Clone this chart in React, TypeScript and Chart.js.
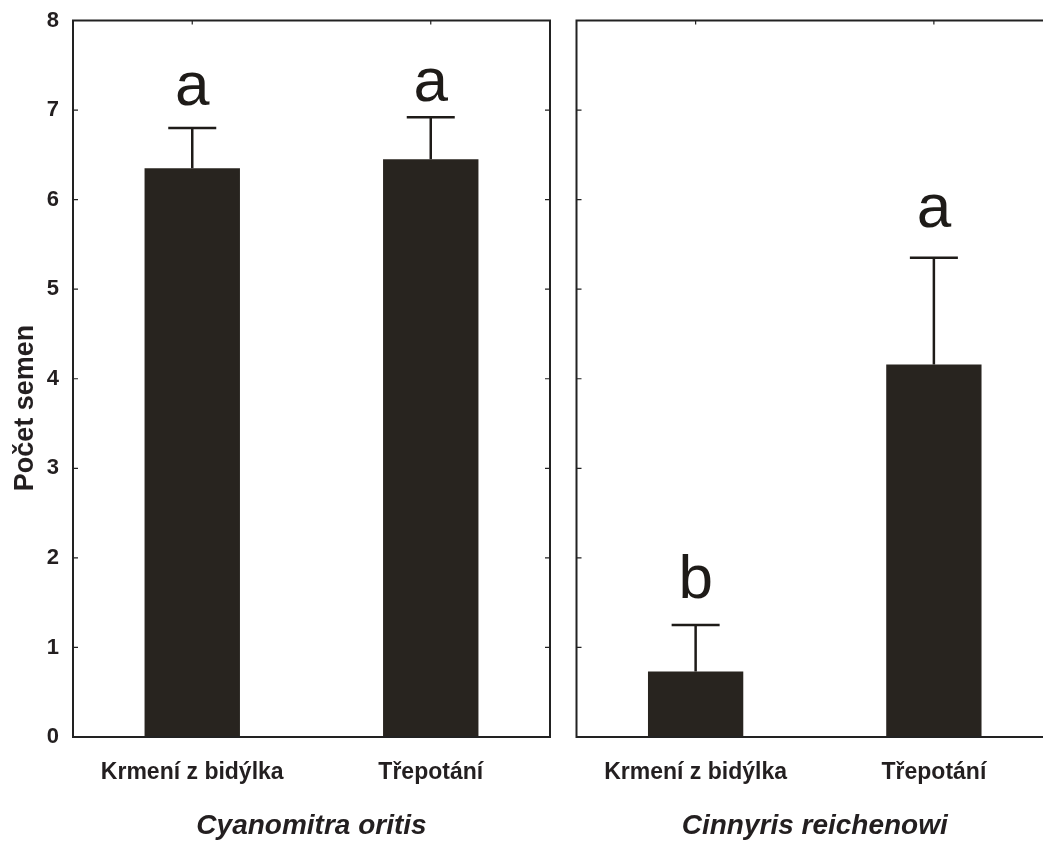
import React, { useEffect, useRef } from "react";
import { Chart, registerables } from "chart.js";

Chart.register(...registerables);

// Feeding mode categories and the two sunbird species
const categories = ["Krmení z bidýlka", "Třepotání"];
const speciesNames = ["Cyanomitra oritis", "Cinnyris reichenowi"];

// Mean number of seeds and the upper error (SE) per feeding mode
const oritisMeans = [6.35, 6.45];
const oritisErrors = [0.45, 0.47];
const reichenowiMeans = [0.73, 4.16];
const reichenowiErrors = [0.52, 1.19];

// Significance letters above each bar
const oritisLetters = ["a", "a"];
const reichenowiLetters = ["b", "a"];

const yMin = 0;
const yMax = 8;
const yStep = 1;
const yTitle = "Počet semen";

const FONT = "'Liberation Sans', Arial, Helvetica, sans-serif";
const INK = "#231f20";
const BAR = "#28241f";

type PanelOpts = {
  means: number[];
  errors: number[];
  letters: string[];
  letterGaps: number[];
  species: string;
  showYLabels: boolean;
  axisWidth: number;
  width: number;
};

const panelPlugin = (o: PanelOpts) => ({
  id: "panelDecor",
  afterDatasetsDraw(chart: any) {
    const { ctx, chartArea } = chart;
    const { left, right, top, bottom } = chartArea;
    const yScale = chart.scales.y;
    const meta = chart.getDatasetMeta(0);
    ctx.save();

    // frame
    ctx.strokeStyle = "#222222";
    ctx.lineWidth = 2;
    ctx.beginPath();
    ctx.rect(left, top, right - left, bottom - top);
    ctx.stroke();

    // inward ticks on the y axes
    ctx.lineWidth = 1.2;
    ctx.beginPath();
    for (let v = yMin + yStep; v < yMax; v += yStep) {
      const py = yScale.getPixelForValue(v);
      ctx.moveTo(left, py);
      ctx.lineTo(left + 5, py);
      ctx.moveTo(right, py);
      ctx.lineTo(right - 5, py);
    }
    // category ticks on the top edge
    meta.data.forEach((bar: any) => {
      ctx.moveTo(bar.x, top);
      ctx.lineTo(bar.x, top + 4);
    });
    ctx.stroke();

    // upper error bars and letters
    meta.data.forEach((bar: any, i: number) => {
      const yTop = yScale.getPixelForValue(o.means[i] + o.errors[i]);
      const yBar = yScale.getPixelForValue(o.means[i]);
      ctx.strokeStyle = "#1e1b18";
      ctx.lineWidth = 2.5;
      ctx.beginPath();
      ctx.moveTo(bar.x, yBar);
      ctx.lineTo(bar.x, yTop);
      ctx.moveTo(bar.x - 24, yTop);
      ctx.lineTo(bar.x + 24, yTop);
      ctx.stroke();

      ctx.fillStyle = "#1e1b18";
      ctx.font = `normal 62px ${FONT}`;
      ctx.textAlign = "center";
      ctx.textBaseline = "alphabetic";
      ctx.fillText(o.letters[i], bar.x, yTop - o.letterGaps[i]);
    });

    if (o.showYLabels) {
      ctx.save();
      ctx.translate(33, 408);
      ctx.rotate(-Math.PI / 2);
      ctx.fillStyle = INK;
      ctx.font = `bold 27px ${FONT}`;
      ctx.textAlign = "center";
      ctx.textBaseline = "alphabetic";
      ctx.fillText(yTitle, 0, 0);
      ctx.restore();
    }
    ctx.restore();
  },
});

function Panel(props: PanelOpts & { left: number }) {
  const ref = useRef<HTMLCanvasElement>(null);
  useEffect(() => {
    const canvas = ref.current;
    if (!canvas) return;
    const chart = new Chart(canvas, {
      type: "bar",
      data: {
        labels: categories,
        datasets: [
          {
            data: props.means,
            backgroundColor: BAR,
            borderWidth: 0,
            barPercentage: 0.4,
            categoryPercentage: 1,
          },
        ],
      },
      options: {
        responsive: false,
        animation: false,
        events: [],
        layout: { padding: { top: 20.5, right: 10, left: 0, bottom: 0 } },
        plugins: { legend: { display: false }, tooltip: { enabled: false } },
        scales: {
          x: {
            type: "category",
            grid: { display: false, drawTicks: false },
            border: { display: false },
            ticks: {
              color: INK,
              font: { family: FONT, size: 23, weight: "bold" },
              padding: 22,
              maxRotation: 0,
              autoSkip: false,
            },
            title: {
              display: true,
              text: props.species,
              color: INK,
              font: { family: FONT, size: 28, weight: "bold", style: "italic" },
              padding: 0,
            },
            afterFit: (s: any) => {
              s.height = 106;
              s.paddingLeft = 0;
              s.paddingRight = 0;
            },
          },
          y: {
            min: yMin,
            max: yMax,
            grid: { display: false, drawTicks: false },
            border: { display: false },
            ticks: {
              display: props.showYLabels,
              stepSize: yStep,
              color: INK,
              font: { family: FONT, size: 22, weight: "bold" },
              padding: 14,
            },
            afterFit: (s: any) => {
              s.width = props.axisWidth;
              s.paddingTop = 0;
              s.paddingBottom = 0;
            },
          },
        },
      } as any,
      plugins: [panelPlugin(props)],
    });
    return () => chart.destroy();
  }, []);
  return (
    <canvas
      ref={ref}
      width={props.width}
      height={843}
      style={{ position: "absolute", left: props.left, top: 0, width: props.width, height: 843 }}
    />
  );
}

export default function App() {
  return (
    <div
      style={{
        position: "absolute",
        left: 0,
        top: 0,
        width: 1043,
        height: 843,
        overflow: "hidden",
        background: "#ffffff",
      }}
    >
      <Panel
        left={0}
        width={560}
        axisWidth={73}
        means={oritisMeans}
        errors={oritisErrors}
        letters={oritisLetters}
        letterGaps={[23, 16]}
        species={speciesNames[0]}
        showYLabels={true}
      />
      <Panel
        left={560}
        width={503}
        axisWidth={16.5}
        means={reichenowiMeans}
        errors={reichenowiErrors}
        letters={reichenowiLetters}
        letterGaps={[27, 31]}
        species={speciesNames[1]}
        showYLabels={false}
      />
    </div>
  );
}
